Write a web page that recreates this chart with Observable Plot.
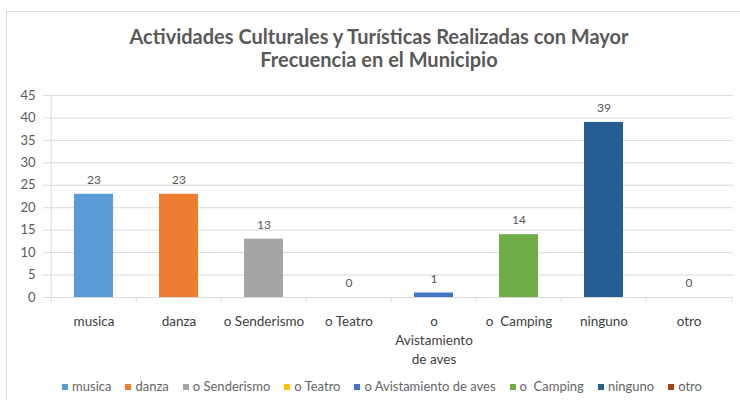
<!DOCTYPE html>
<html>
<head>
<meta charset="utf-8">
<script src="https://cdn.jsdelivr.net/npm/d3@7"></script>
<script src="https://cdn.jsdelivr.net/npm/@observablehq/plot@0.6"></script>
<style>
  body { margin: 0; background: #fff; font-family: Lato, "Open Sans", sans-serif; }
  #frame { position: absolute; left: 6px; top: 11px; width: 760px; height: 420px;
           border-left: 1px solid #d9d9d9; border-top: 1px solid #d9d9d9; }
  #title { position: absolute; left: 0; top: 25px; width: 758px; text-align: center;
           font-size: 20px; font-weight: bold; line-height: 23px; color: #595959; }
  #chart { position: absolute; left: 0; top: 80px; }
  #legend { position: absolute; left: 0; top: 378px; width: 764px; display: flex;
            justify-content: center; gap: 14px; font-size: 13px; color: #666; white-space: pre; }
  #legend span.sw { display: inline-block; width: 6px; height: 6px; margin-right: 4px; vertical-align: middle; position: relative; top: -1px; }
</style>
</head>
<body>
<div id="frame"></div>
<div id="title">Actividades Culturales y Turísticas Realizadas con Mayor<br>Frecuencia en el Municipio</div>
<div id="chart"></div>
<div id="legend"></div>
<script>
const categories = ["musica", "danza", "o Senderismo", "o Teatro", "o Avistamiento de aves", "o\u00a0 Camping", "ninguno", "otro"];
const tickLabels = ["musica", "danza", "o Senderismo", "o Teatro", "o\nAvistamiento\nde aves", "o\u00a0 Camping", "ninguno", "otro"];
const values = [23, 23, 13, 0, 1, 14, 39, 0];
const colors = ["#5B9BD5", "#ED7D31", "#A5A5A5", "#FFC000", "#4472C4", "#70AD47", "#255E91", "#9E480E"];
const yTicks = [0, 5, 10, 15, 20, 25, 30, 35, 40, 45];

const data = categories.map((c, i) => ({cat: c, value: values[i]}));
const W = 740, ML = 48, MR = 7;
const bw = (W - ML - MR) / categories.length;
const gridColor = "#d9d9d9";

const chart = Plot.plot({
  width: W, height: 290,
  marginTop: 15, marginBottom: 73, marginLeft: ML, marginRight: MR,
  style: {fontFamily: "Lato, 'Open Sans', sans-serif", background: "transparent", overflow: "visible"},
  x: {domain: categories, padding: 0},
  y: {domain: [0, 45]},
  color: {domain: categories, range: colors},
  marks: [
    Plot.gridY(yTicks, {stroke: gridColor, strokeOpacity: 1}),
    Plot.ruleX([categories[0]], {y1: 0, y2: 45, dx: -bw / 2, stroke: gridColor}),
    Plot.ruleX(categories, {y1: 0, y2: -1.1, dx: -bw / 2, stroke: gridColor}),
    Plot.ruleX([categories[categories.length - 1]], {y1: 0, y2: -1.1, dx: bw / 2, stroke: gridColor}),
    Plot.barY(data, {x: "cat", y: "value", fill: "cat", insetLeft: 23, insetRight: 23}),
    Plot.text(data, {x: "cat", y: "value", text: d => String(d.value), dy: -14, fill: "#595959", fontSize: 12}),
    Plot.axisY({ticks: yTicks, tickSize: 5, stroke: gridColor, tickPadding: 8, fill: "#595959", fontSize: 13, label: null}),
    Plot.axisX({tickSize: 0, tickPadding: 15, tickFormat: d => tickLabels[categories.indexOf(d)], fill: "#404040", fontSize: 13.5, lineHeight: 1.4, label: null})
  ]
});
document.getElementById("chart").append(chart);

const legend = document.getElementById("legend");
categories.forEach((c, i) => {
  const item = document.createElement("div");
  const sw = document.createElement("span");
  sw.className = "sw";
  sw.style.background = colors[i];
  item.append(sw, document.createTextNode(c));
  legend.append(item);
});
</script>
</body>
</html>
